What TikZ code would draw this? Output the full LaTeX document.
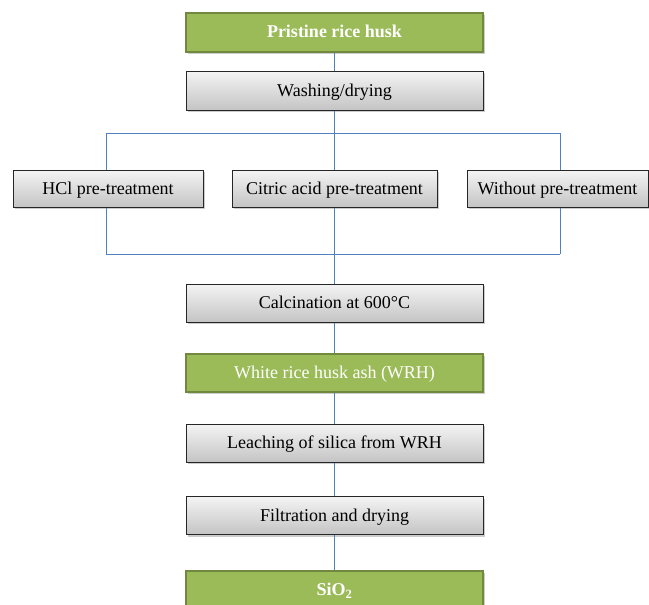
\documentclass[tikz,border=0pt]{standalone}
\usepackage{fontspec}
\setmainfont{Liberation Serif}
\usetikzlibrary{shadows}
\definecolor{ogreen}{HTML}{9BBB59}
\definecolor{ogreenD}{HTML}{71893F}
\definecolor{lblue}{HTML}{4F81BD}
\definecolor{gtop}{HTML}{F4F4F4}
\definecolor{gbot}{HTML}{C4C4C4}
\begin{document}
\begin{tikzpicture}[x=1pt,y=1pt,
  box/.style={inner sep=0pt, minimum height=38pt, text height=14pt, text depth=3pt,
    font=\fontsize{18}{20}\selectfont,
    drop shadow={shadow xshift=2pt, shadow yshift=-2pt, opacity=0.4}},
  graybox/.style={box, draw=black!85, line width=1pt, top color=gtop, bottom color=gbot, text=black},
  greenbox/.style={box, draw=ogreenD, line width=2pt, fill=ogreen, text=white},
  link/.style={draw=lblue, line width=1pt}]
\clip (0,0) rectangle (649,-605);
\fill[white] (0,0) rectangle (649,-605);

\node[greenbox, minimum width=297pt, minimum height=39pt, font=\fontsize{18}{20}\selectfont\bfseries] (prist) at (334.5,-32) {Pristine rice husk};
\node[graybox, minimum width=297pt, minimum height=39pt] (wash) at (334.5,-90.5) {Washing/drying};

\node[graybox, minimum width=190pt, minimum height=37pt] (hcl) at (108,-188.5) {HCl pre-treatment};
\node[graybox, minimum width=205pt, minimum height=37pt] (citric) at (334.5,-188.5) {Citric acid pre-treatment};
\node[graybox, minimum width=181pt, minimum height=37pt] (without) at (557.5,-188.5) {Without pre-treatment};

\node[graybox, minimum width=297pt] (calc) at (334.5,-303) {Calcination at 600°C};
\node[greenbox, minimum width=297pt] (wrh) at (334.5,-372.5) {White rice husk ash (WRH)};
\node[graybox, minimum width=297pt] (leach) at (334.5,-443) {Leaching of silica from WRH};
\node[graybox, minimum width=297pt] (filt) at (334.5,-515.5) {Filtration and drying};
\node[greenbox, minimum width=297pt, font=\fontsize{18}{20}\selectfont\bfseries] (sio2) at (334.5,-590) {SiO\textsubscript{2}};

\coordinate (tl) at (106,-133);
\coordinate (tc) at (334.5,-133);
\coordinate (tr) at (560,-133);
\coordinate (bl) at (106,-254);
\coordinate (bc) at (334.5,-254);
\coordinate (br) at (560,-254);

\draw[link] (prist) -- (wash);
\draw[link] (wash) -- (tc);
\draw[link] (tl) -- (tr);
\draw[link] (tl) -- (tl |- hcl.north);
\draw[link] (tc) -- (citric);
\draw[link] (tr) -- (tr |- without.north);
\draw[link] (tl |- hcl.south) -- (bl);
\draw[link] (citric) -- (bc);
\draw[link] (tr |- without.south) -- (br);
\draw[link] (bl) -- (br);
\draw[link] (bc) -- (calc);
\draw[link] (calc) -- (wrh);
\draw[link] (wrh) -- (leach);
\draw[link] (leach) -- (filt);
\draw[link] (filt) -- (sio2);
\end{tikzpicture}
\end{document}
